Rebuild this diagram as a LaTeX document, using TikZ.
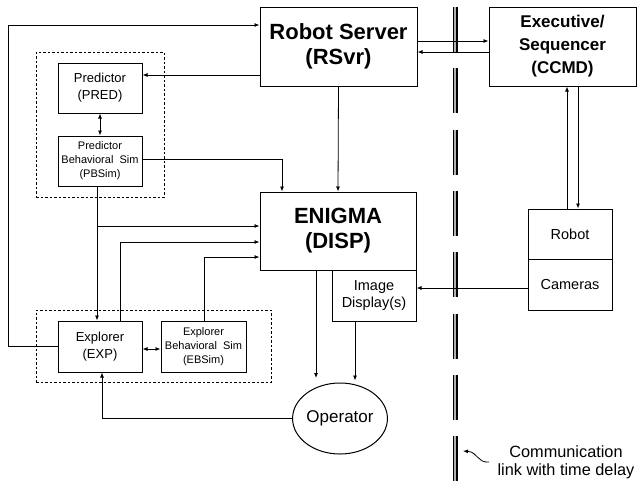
\documentclass[tikz,border=0pt]{standalone}
\usepackage{fontspec}
\setmainfont{Liberation Sans}
\usetikzlibrary{arrows.meta,shapes.geometric}
\begin{document}
\begin{tikzpicture}[x=1pt,y=-1pt,
  box/.style={draw, line width=1pt, inner sep=0pt, align=center},
  arr/.style={-{Latex[length=5pt,width=4pt]}, line width=0.8pt},
  darr/.style={{Latex[length=5pt,width=4pt]}-{Latex[length=5pt,width=4pt]}, line width=0.8pt},
  ln/.style={line width=0.8pt},
  grp/.style={draw, line width=0.8pt, dash pattern=on 2.5pt off 2pt, inner sep=0pt},
  fbig/.style={font=\fontsize{22}{25}\selectfont\bfseries},
  fexec/.style={font=\fontsize{17}{23}\selectfont\bfseries},
  fmid/.style={font=\fontsize{14.5}{17.5}\selectfont},
  fsm/.style={font=\fontsize{13}{17}\selectfont},
  fxs/.style={font=\fontsize{11}{14}\selectfont},
  fop/.style={font=\fontsize{17}{18}\selectfont},
  fcomm/.style={font=\fontsize{16.3}{18}\selectfont}]
\useasboundingbox (0,0) rectangle (637,483);

% communication link (thick dashed bar)
\draw[line width=5pt, dash pattern=on 45pt off 16.3pt] (455,7) -- (455,483);
\draw[line width=1.2pt, gray!60, dash pattern=on 45pt off 16.3pt] (455,7) -- (455,483);

% group frames
\node[grp, minimum width=128pt, minimum height=145pt] (g1) at (100,124.5) {};
\node[grp, minimum width=235pt, minimum height=72pt] (g2) at (153.5,346) {};

% nodes
\node[box, fbig, minimum width=157pt, minimum height=79pt] (rsvr) at (338.5,46.5) {Robot Server\\(RSvr)};
\node[box, fexec, minimum width=147pt, minimum height=79pt] (exec) at (562.5,46.5) {Executive/\\Sequencer\\(CCMD)};
\node[box, fsm, minimum width=84pt, minimum height=50pt] (pred) at (100,88) {Predictor\\(PRED)};
\node[box, fxs, minimum width=84pt, minimum height=50pt] (pbsim) at (100,161) {Predictor\\Behavioral\ \ Sim\\(PBSim)};
\node[box, fbig, minimum width=156pt, minimum height=78pt] (enigma) at (338,231) {ENIGMA\\(DISP)};
\node[box, fmid, minimum width=84pt, minimum height=51pt] (img) at (374,295.5) {Image\\Display(s)};
\node[box, fsm, minimum width=84pt, minimum height=51pt] (exp) at (100,346.5) {Explorer\\(EXP)};
\node[box, fxs, minimum width=85pt, minimum height=51pt] (ebsim) at (203.5,346.5) {Explorer\\Behavioral\ \ Sim\\(EBSim)};
\node[box, fmid, minimum width=84pt, minimum height=50pt] (robot) at (570,234) {Robot};
\node[box, fmid, minimum width=84pt, minimum height=51pt] (cam) at (570,284.5) {Cameras};
\node[draw, ellipse, line width=1pt, fop, minimum width=94pt, minimum height=71pt, inner sep=0pt] (op) at (340,418.5) {Operator};
\node[fcomm, align=center, inner sep=0pt] (comm) at (566,462) {Communication\\link with time delay};

% connectors
\draw[arr] (exp.west) -- (8,346.5) -- (8,25) -- (rsvr.west |- 0,25);
\draw[arr] (rsvr.west |- 0,75) -- (pred.east |- 0,75);
\draw[darr] (pred.south) -- (pbsim.north);
\draw[arr] (pbsim.east |- 0,159) -| (enigma.north -| 282,0);
\draw[arr] (pbsim.south -| 97,0) -- (exp.north -| 97,0);
\draw[arr] (97,226) -- (enigma.west |- 0,226);
\draw[arr] (exp.north -| 120,0) |- (enigma.west |- 0,242);
\draw[arr] (ebsim.north -| 204,0) |- (enigma.west |- 0,257);
\draw[darr] (exp.east |- 0,349) -- (ebsim.west |- 0,349);
\draw[arr] (op.west) -| (exp.south -| 102,0);
\draw[arr, shorten >=4.5pt] (enigma.south -| 316,0) -- (op.north -| 316,0);
\draw[arr, shorten >=2pt] (img.south -| 355,0) -- (op.north -| 355,0);
\draw[arr] (rsvr.south) -- (enigma.north);
\draw[arr] (rsvr.east |- 0,41) -- (exec.west |- 0,41);
\draw[arr] (exec.west |- 0,52) -- (rsvr.east |- 0,52);
\draw[arr] (robot.north -| 567,0) -- (exec.south -| 567,0);
\draw[arr] (exec.south -| 578,0) -- (robot.north -| 578,0);
\draw[arr] (cam.west |- 0,288) -- (img.east |- 0,288);
\coordinate (ctail) at (489,462);
\coordinate (chead) at (463,451);
\draw[arr] (ctail) .. controls (477,463) and (478,452) .. (chead);
\end{tikzpicture}
\end{document}
